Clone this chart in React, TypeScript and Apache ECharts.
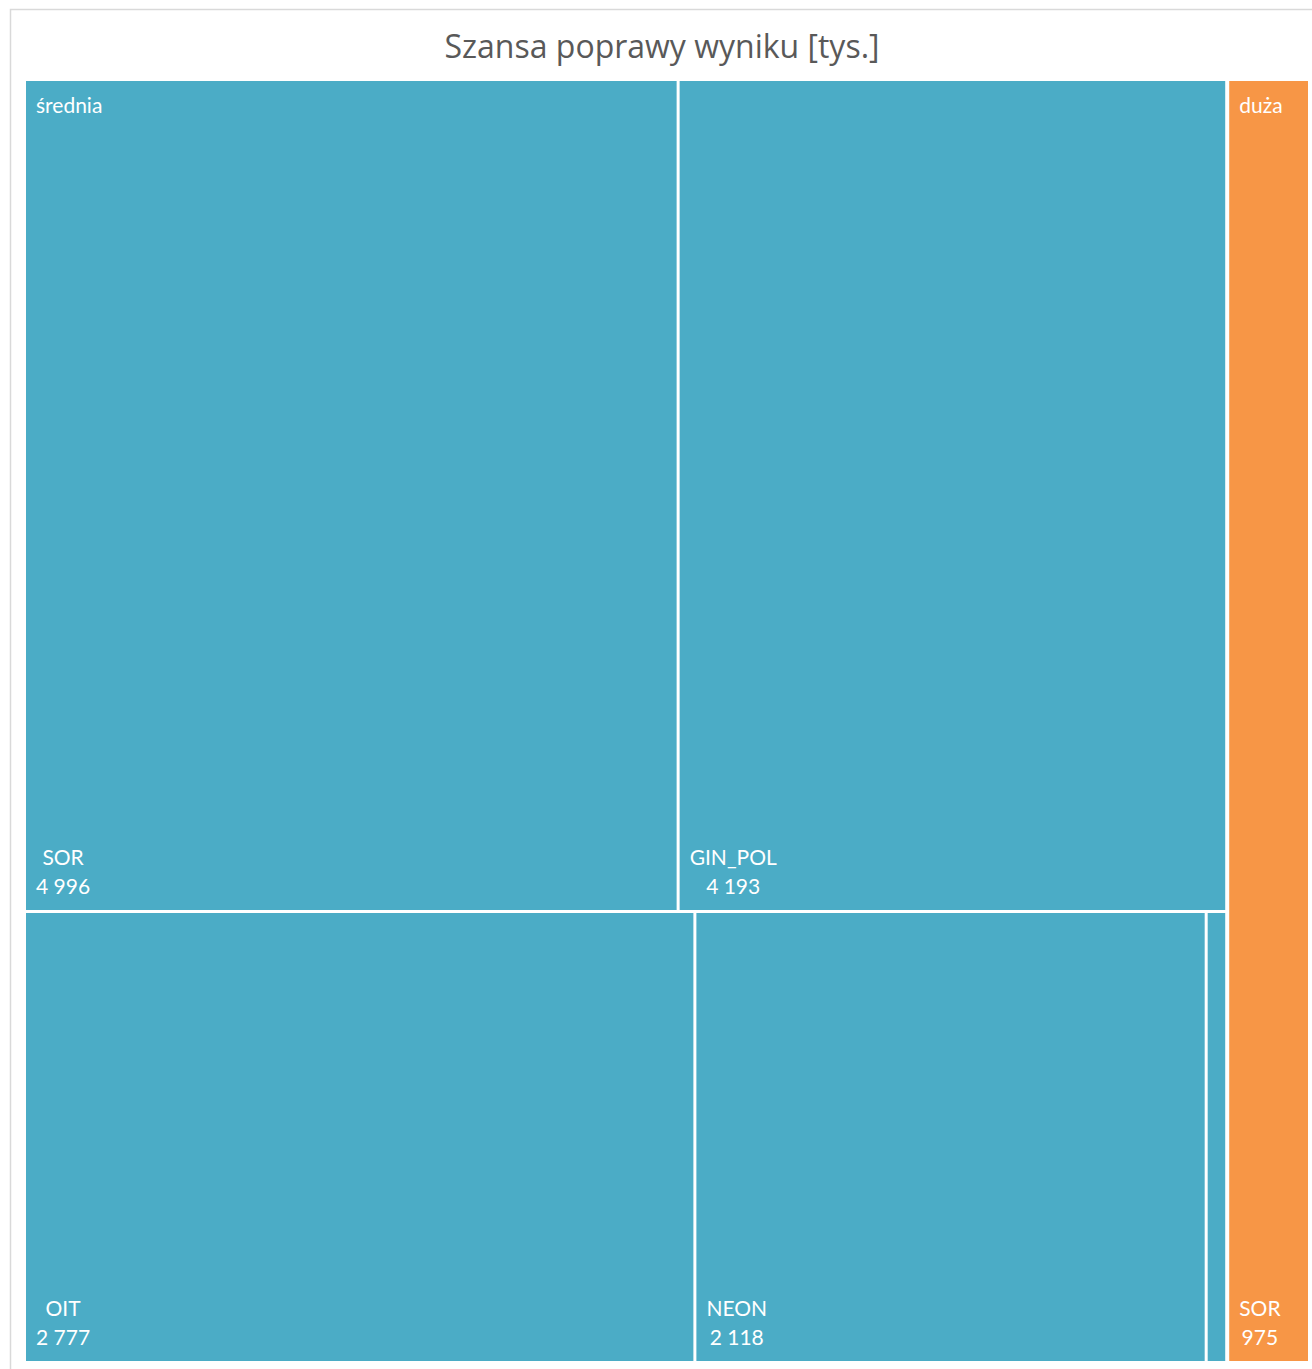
import React, { useEffect, useRef } from 'react';
import * as echarts from 'echarts';

const TITLE = 'Szansa poprawy wyniku [tys.]';
const GROUPS = ['średnia', 'duża'];
const GROUP_COLORS = ['#4BACC6', '#F79646'];
const SREDNIA_NAMES = ['SOR', 'GIN_POL', 'OIT', 'NEON', 'INNE'];
const SREDNIA_VALUES = [4996, 4193, 2777, 2118, 85];
const DUZA_NAMES = ['SOR'];
const DUZA_VALUES = [975];

const FONT = 'Lato, "Open Sans", sans-serif';
const TITLE_FONT = '"Open Sans", Lato, sans-serif';
const LABEL_SIZE = 21;
const CLEAR = 'rgba(0,0,0,0)';
const fmt = (v: number) => String(v).replace(/\B(?=(\d{3})+(?!\d))/g, ' ');
const sum = (a: number[]) => a.reduce((s, v) => s + v, 0);

function measure(text: string): number {
  const ctx = document.createElement('canvas').getContext('2d');
  if (!ctx) return text.length * LABEL_SIZE * 0.5;
  ctx.font = `${LABEL_SIZE}px ${FONT}`;
  return ctx.measureText(text).width;
}

function leaf(name: string, value: number, color: string) {
  const w = Math.max(measure(name), measure(fmt(value)));
  return {
    name,
    value,
    itemStyle: { color },
    label: { offset: [10 + w / 2, -10] },
  };
}

export default function App() {
  const ref = useRef<HTMLDivElement>(null);
  useEffect(() => {
    document.body.style.margin = '0';
    const chart = echarts.init(ref.current!, undefined, { renderer: 'svg' });
    const groupsChildren = [
      SREDNIA_NAMES.map((n, i) => leaf(n, SREDNIA_VALUES[i], GROUP_COLORS[0])),
      DUZA_NAMES.map((n, i) => leaf(n, DUZA_VALUES[i], GROUP_COLORS[1])),
    ];
    const groupValues = [sum(SREDNIA_VALUES), sum(DUZA_VALUES)];
    const mainData = GROUPS.map((g, i) => ({
      name: g,
      value: groupValues[i],
      itemStyle: { color: GROUP_COLORS[i] },
      children: groupsChildren[i],
    }));
    const overlayData = GROUPS.map((g, i) => ({
      name: g,
      value: groupValues[i],
      itemStyle: { color: CLEAR, borderColor: CLEAR },
    }));
    const box = { left: 26, top: 81, width: 1282, height: 1280 };
    const common = {
      type: 'treemap',
      ...box,
      roam: false,
      nodeClick: false,
      breadcrumb: { show: false },
      animation: false,
      upperLabel: { show: false },
    };
    chart.setOption({
      animation: false,
      title: {
        text: TITLE,
        left: 662,
        textAlign: 'center',
        top: 29,
        padding: 0,
        textStyle: { fontFamily: TITLE_FONT, fontSize: 32, fontWeight: 'normal', color: '#595959' },
      },
      graphic: [
        {
          type: 'rect',
          z: -10,
          shape: { x: 10.5, y: 9.5, width: 1400, height: 1400 },
          style: { fill: '#fff', stroke: '#D9D9D9', lineWidth: 1.5 },
        },
      ],
      series: [
        {
          ...common,
          itemStyle: { borderWidth: 0, gapWidth: 3, borderColor: '#fff' },
          levels: [
            { itemStyle: { gapWidth: 4, borderWidth: 0 } },
            { itemStyle: { gapWidth: 3, borderWidth: 0 } },
            { itemStyle: { gapWidth: 0, borderWidth: 0 } },
          ],
          label: {
            show: true,
            position: 'insideBottomLeft',
            distance: 0,
            padding: 0,
            align: 'center',
            verticalAlign: 'bottom',
            color: '#fff',
            fontSize: LABEL_SIZE,
            lineHeight: 29,
            fontFamily: FONT,
            formatter: (p: any) => (p.value < 200 ? '' : `${p.name}\n${fmt(p.value)}`),
          },
          data: mainData,
        },
        {
          ...common,
          z: 5,
          silent: true,
          itemStyle: { borderWidth: 0, gapWidth: 4, color: CLEAR, borderColor: CLEAR },
          levels: [
            { itemStyle: { gapWidth: 4, borderWidth: 0, color: CLEAR, borderColor: CLEAR } },
            { itemStyle: { gapWidth: 0, borderWidth: 0, color: CLEAR, borderColor: CLEAR } },
          ],
          label: {
            show: true,
            position: 'insideTopLeft',
            distance: 0,
            padding: [9, 0, 0, 10],
            color: '#fff',
            fontSize: LABEL_SIZE,
            lineHeight: 29,
            fontFamily: FONT,
          },
          data: overlayData,
        },
      ],
    });
    return () => chart.dispose();
  }, []);
  return <div ref={ref} style={{ width: 1312, height: 1369 }} />;
}
